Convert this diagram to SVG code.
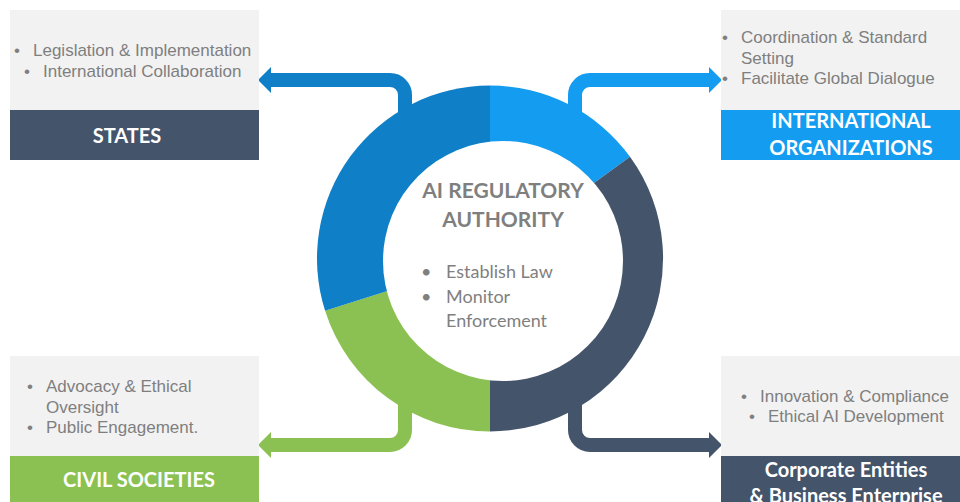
<svg xmlns="http://www.w3.org/2000/svg" width="960" height="502" viewBox="0 0 960 502">
<style>
.box{fill:#F2F2F2}
.item{font-family:"Liberation Sans",Arial,sans-serif;font-size:17px;fill:#7F7F7F}
.title{font-family:Lato,"Open Sans",sans-serif;font-size:20px;font-weight:bold;fill:#FFFFFF;text-anchor:middle}
.conn{fill:none;stroke-width:14}
.ctitle{font-family:Lato,"Open Sans",sans-serif;font-size:21px;font-weight:bold;fill:#7F7F7F;text-anchor:middle}
.citem{font-family:Lato,"Open Sans",sans-serif;font-size:18px;fill:#7F7F7F}
</style>
<rect width="960" height="502" fill="#FFFFFF"/>
<g id="connectors">
  <path class="conn" stroke="#0F7FC7" d="M405,130 V95 A15,15 0 0 0 390,80 H270"/>
  <polygon fill="#0F7FC7" points="258,80 271,67 271,93"/>
  <path class="conn" stroke="#139CF0" d="M575,130 V95 A15,15 0 0 1 590,80 H710"/>
  <polygon fill="#139CF0" points="722,80 709,67 709,93"/>
  <path class="conn" stroke="#8BC152" d="M405,390 V430 A15,15 0 0 1 390,445 H270"/>
  <polygon fill="#8BC152" points="258,445 271,432 271,458"/>
  <path class="conn" stroke="#44546A" d="M575,390 V430 A15,15 0 0 0 590,445 H710"/>
  <polygon fill="#44546A" points="722,445 709,432 709,458"/>
</g>
<g id="hub">
  <path fill="#139CF0" d="M490,258.5 L490,85.5 A173,173 0 0 1 630,156.8 Z"/>
  <path fill="#44546A" d="M490,258.5 L630,156.8 A173,173 0 0 1 490,431.5 Z"/>
  <path fill="#8BC152" d="M490,258.5 L490,431.5 A173,173 0 0 1 325.1,310.8 Z"/>
  <path fill="#0F7FC7" d="M490,258.5 L325.1,310.8 A173,173 0 0 1 490,85.5 Z"/>
  <circle cx="503" cy="261" r="120" fill="#FFFFFF"/>
  <text class="ctitle" x="503" y="198">AI REGULATORY</text>
  <text class="ctitle" x="503" y="227">AUTHORITY</text>
  <text class="citem" x="421" y="278">•</text>
  <text class="citem" x="446" y="278">Establish Law</text>
  <text class="citem" x="421" y="303">•</text>
  <text class="citem" x="446" y="303">Monitor</text>
  <text class="citem" x="446" y="327">Enforcement</text>
</g>
<g id="states">
  <rect class="box" x="10" y="10" width="249" height="100"/>
  <rect x="10" y="110" width="249" height="50" fill="#44546A"/>
  <text class="item" x="14" y="56">•</text>
  <text class="item" x="33" y="56">Legislation &amp; Implementation</text>
  <text class="item" x="24" y="77">•</text>
  <text class="item" x="43" y="77">International Collaboration</text>
  <text class="title" x="127" y="143">STATES</text>
</g>
<g id="international">
  <rect class="box" x="721" y="10" width="239" height="100"/>
  <rect x="721" y="110" width="239" height="50" fill="#139CF0"/>
  <text class="item" x="722" y="43">•</text>
  <text class="item" x="741" y="43">Coordination &amp; Standard</text>
  <text class="item" x="741" y="64">Setting</text>
  <text class="item" x="722" y="84">•</text>
  <text class="item" x="741" y="84">Facilitate Global Dialogue</text>
  <text class="title" x="851" y="128">INTERNATIONAL</text>
  <text class="title" x="851" y="155">ORGANIZATIONS</text>
</g>
<g id="civil">
  <rect class="box" x="10" y="356" width="249" height="100"/>
  <rect x="10" y="456" width="249" height="46" fill="#8BC152"/>
  <text class="item" x="27" y="392">•</text>
  <text class="item" x="46" y="392">Advocacy &amp; Ethical</text>
  <text class="item" x="46" y="413">Oversight</text>
  <text class="item" x="27" y="433">•</text>
  <text class="item" x="46" y="433">Public Engagement.</text>
  <text class="title" x="139" y="487">CIVIL SOCIETIES</text>
</g>
<g id="corporate">
  <rect class="box" x="721" y="356" width="239" height="100"/>
  <rect x="721" y="456" width="239" height="46" fill="#44546A"/>
  <text class="item" x="741" y="402">•</text>
  <text class="item" x="760" y="402">Innovation &amp; Compliance</text>
  <text class="item" x="749" y="422">•</text>
  <text class="item" x="768" y="422">Ethical AI Development</text>
  <text class="title" x="846" y="477">Corporate Entities</text>
  <text class="title" x="846" y="503">&amp; Business Enterprise</text>
</g>
</svg>
